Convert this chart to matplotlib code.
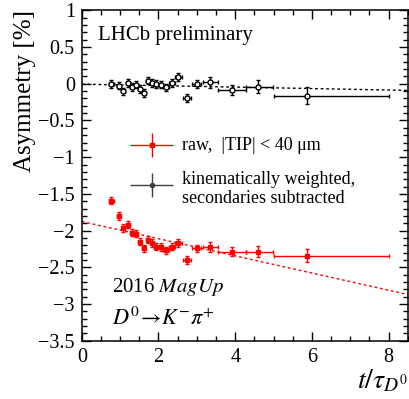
import numpy as np
import matplotlib
matplotlib.use("Agg")
import matplotlib.pyplot as plt
from matplotlib.ticker import MultipleLocator

plt.rcParams['font.family'] = ['Liberation Serif', 'DejaVu Serif']
plt.rcParams['mathtext.fontset'] = 'stix'
plt.rcParams['axes.unicode_minus'] = True

# bin centres in t/tau and asymmetric bin half-widths
t = np.array([0.767, 0.957, 1.087, 1.20, 1.306, 1.41, 1.505, 1.61, 1.72, 1.83,
              1.94, 2.06, 2.20, 2.35, 2.52, 2.74, 3.00, 3.35, 3.91, 4.59, 5.87])
t_lo = np.array([0.06, 0.05, 0.05, 0.05, 0.05, 0.05, 0.05, 0.05, 0.05, 0.05,
                 0.05, 0.06, 0.07, 0.08, 0.09, 0.10, 0.12, 0.18, 0.35, 0.30, 0.87])
t_hi = np.array([0.06, 0.05, 0.05, 0.05, 0.05, 0.05, 0.05, 0.05, 0.05, 0.05,
                 0.05, 0.06, 0.07, 0.08, 0.09, 0.10, 0.12, 0.21, 0.38, 0.39, 2.15])

# raw asymmetry, |TIP| < 40 um  [%]
raw = np.array([-1.594, -1.80, -1.966, -1.92, -2.03, -2.04, -2.15, -2.24, -2.125, -2.17,
                -2.22, -2.225, -2.27, -2.22, -2.17, -2.40, -2.24, -2.225, -2.285, -2.285, -2.34])
raw_err = np.array([0.05, 0.05, 0.05, 0.05, 0.05, 0.05, 0.05, 0.05, 0.05, 0.05,
                    0.05, 0.05, 0.05, 0.05, 0.05, 0.05, 0.05, 0.07, 0.065, 0.08, 0.09])

# kinematically weighted, secondaries subtracted  [%]
kin = np.array([-0.004, -0.027, -0.105, 0.01, -0.045, -0.014, -0.072, -0.127, 0.041, 0.01,
                -0.004, -0.014, -0.05, 0.01, 0.091, -0.195, -0.004, 0.018, -0.082, -0.037, -0.16])
kin_err = np.array([0.05, 0.05, 0.05, 0.05, 0.05, 0.05, 0.05, 0.05, 0.05, 0.05,
                    0.05, 0.05, 0.05, 0.05, 0.05, 0.05, 0.05, 0.07, 0.07, 0.09, 0.11])

# linear fits
fit_t = [0.0, 8.5]
fit_raw = [-1.876, -2.87]
fit_kin = [-0.005, -0.09]

fig = plt.figure(figsize=(4.09, 3.99), dpi=100)
ax = fig.add_axes([0.2, 0.146, 0.797, 0.828])

ax.plot(fit_t, fit_kin, ls=(0, (2, 2)), color='black', lw=1.0)
ax.plot(fit_t, fit_raw, ls=(0, (2, 2)), color='red', lw=1.0)

ax.errorbar(t, raw, yerr=raw_err, xerr=[t_lo, t_hi], fmt='s', color='red',
            ms=3.0, lw=1.0, capsize=1.5, capthick=1.0)
ax.errorbar(t, kin, yerr=kin_err, xerr=[t_lo, t_hi], fmt='o', color='black',
            mfc='white', mec='black', ms=3.6, mew=1.0, lw=1.0, capsize=1.5, capthick=1.0)

ax.set_xlim(0, 8.5)
ax.set_ylim(-3.5, 1)
ax.xaxis.set_major_locator(MultipleLocator(2))
ax.xaxis.set_minor_locator(MultipleLocator(0.5))
ax.yaxis.set_major_locator(MultipleLocator(0.5))
ax.yaxis.set_minor_locator(MultipleLocator(0.1))
ax.tick_params(which='both', direction='in', top=True, right=True, labelsize=14.5, width=1.0)
ax.tick_params(which='major', length=6.5, pad=5)
ax.tick_params(which='minor', length=3.3)
ax.set_yticks(np.arange(-3.5, 1.01, 0.5))
ax.set_yticklabels(['\u22123.5', '\u22123', '\u22122.5', '\u22122', '\u22121.5', '\u22121',
                    '\u22120.5', '0', '0.5', '1'])
for s in ax.spines.values():
    s.set_linewidth(1.1)

fig.text(25 / 409, 0.974, 'Asymmetry [%]', rotation=90, ha='center', va='top', fontsize=18)
fig.text(0.998, 0.045, r'$t/\tau_{D^0}$', ha='right', va='center', fontsize=20)

ax.text(0.05, 0.925, 'LHCb preliminary', transform=ax.transAxes, fontsize=15, va='center')
ax.text(0.092, 0.163, '2016 $\\mathit{MagUp}$', transform=ax.transAxes, fontsize=15, va='center')
ax.text(0.092, 0.068, r'$D^0\!\rightarrow\!K^{-}\pi^{+}$', transform=ax.transAxes, fontsize=16, va='center')

# legend entries
ax.errorbar([0.214], [0.592], xerr=[0.0666], yerr=[0.0354], fmt='s', color='red', ms=3.2,
            lw=1.0, transform=ax.transAxes)
ax.errorbar([0.214], [0.471], xerr=[0.0666], yerr=[0.0354], fmt='o', color='#404040', ms=3,
            lw=1.0, transform=ax.transAxes)
ax.text(0.308, 0.592, 'raw,  |TIP| < 40 \u03bcm', transform=ax.transAxes, fontsize=13, va='center')
ax.text(0.308, 0.46, 'kinematically weighted,\nsecondaries subtracted', transform=ax.transAxes,
        fontsize=13, va='center', linespacing=1.15)

fig.savefig('out.png', dpi=100)
